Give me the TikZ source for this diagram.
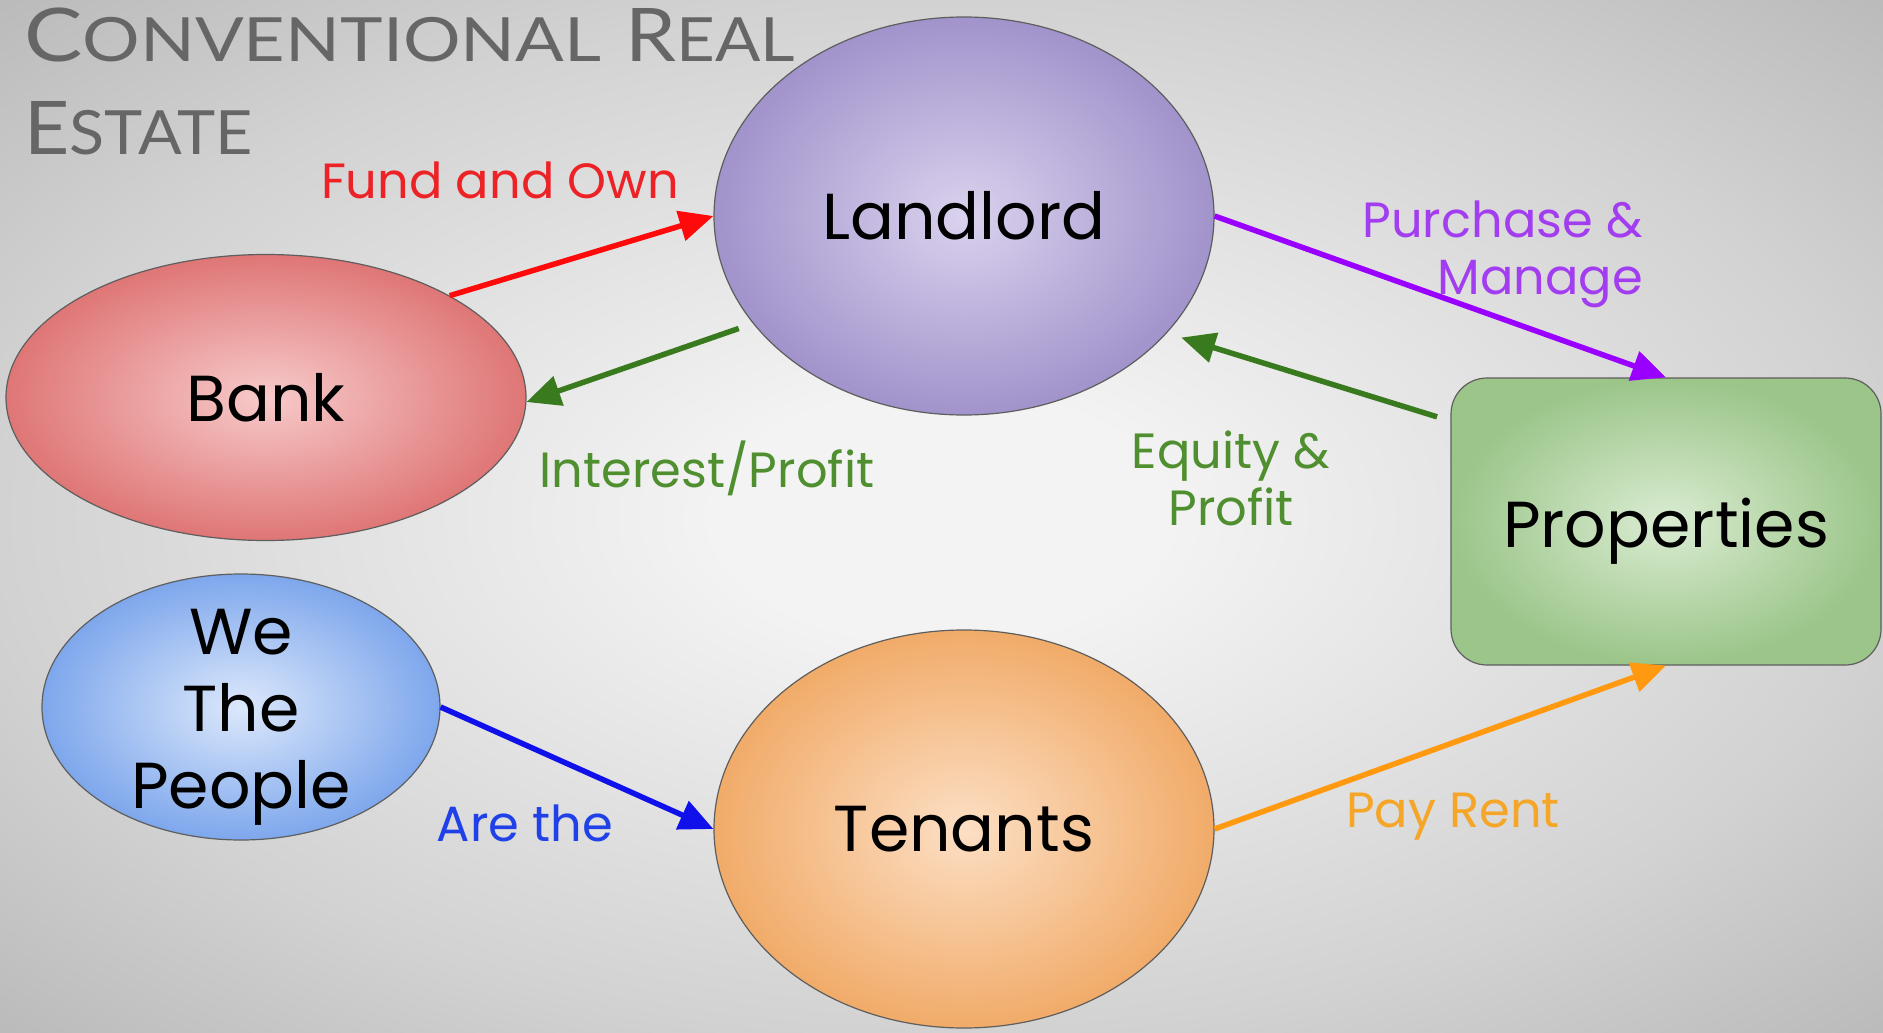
\documentclass[tikz,border=0pt]{standalone}
\usepackage{fontspec}
\setmainfont{Poppins}
\newfontfamily\titlefont{Lato}
\usetikzlibrary{shapes.geometric,arrows.meta}

\definecolor{bgin}{HTML}{F3F3F3}
\definecolor{bgmid}{HTML}{D2D2D2}
\definecolor{bgout}{HTML}{B9B9B9}
\definecolor{edgegray}{HTML}{5E5E5E}
\definecolor{titlegray}{HTML}{666666}
\definecolor{lordin}{HTML}{DAD2EE}
\definecolor{lordout}{HTML}{A193CB}
\definecolor{bankin}{HTML}{F7CACA}
\definecolor{bankout}{HTML}{DF7676}
\definecolor{peoplein}{HTML}{DCE8FB}
\definecolor{peopleout}{HTML}{7EA7EC}
\definecolor{tenin}{HTML}{FCDFC4}
\definecolor{tenout}{HTML}{F1AB69}
\definecolor{propin}{HTML}{DAECD2}
\definecolor{propout}{HTML}{9BC589}
\definecolor{fundred}{HTML}{FF0A0A}
\definecolor{fundlbl}{HTML}{EC2226}
\definecolor{profitgreen}{HTML}{3A7A1E}
\definecolor{profitlbl}{HTML}{4F8F2F}
\definecolor{buypurple}{HTML}{9900FF}
\definecolor{buylbl}{HTML}{A23EF0}
\definecolor{areblue}{HTML}{1010EA}
\definecolor{arelbl}{HTML}{2040E8}
\definecolor{rentorange}{HTML}{FF9A10}
\definecolor{rentlbl}{HTML}{F5A628}

\pgfdeclareradialshading{backdrop}{\pgfpoint{0bp}{0bp}}{%
  color(0bp)=(bgin); color(6bp)=(bgin); color(25bp)=(bgmid);
  color(36bp)=(bgout); color(50bp)=(bgout)}

% small-capital title pieces
\newcommand{\ttlcap}[1]{{\fontsize{74}{80}\selectfont #1}}
\newcommand{\ttlsc}[1]{{\fontsize{61}{66}\selectfont #1}}
% lower a box's ink without changing its reported size
\newcommand{\sinkby}[2]{\raisebox{-#1}[\height][\depth]{#2}}

\begin{document}
\begin{tikzpicture}[x=1pt,y=-1pt,
  blob/.style={ellipse, draw=edgegray, line width=1.2pt, inner sep=0pt,
    font=\fontsize{65}{77}\selectfont, text=black, align=center},
  flow/.style={line width=5.5pt, -{Triangle[length=34pt,width=30pt]}},
  lbl/.style={font=\fontsize{49.5}{57}\selectfont, align=center, inner sep=0pt},
  titleline/.style={anchor=base west, inner sep=0pt, text=titlegray}]

% canvas and soft grey backdrop
\useasboundingbox (0,0) rectangle (1883,1033);
\shade[shading=backdrop] (0,0) rectangle (1883,1033);

% title set in small capitals
\node[titleline] (title1) at (24,62)
  {\titlefont\scalebox{1.18}[1]{\ttlcap{C}\ttlsc{ONVENTIONAL}}\hspace{24pt}%
   \scalebox{1.1}[1]{\ttlcap{R}\ttlsc{EAL}}};
\node[titleline] (title2) at (24,154)
  {\titlefont\scalebox{1.06}[1]{\ttlcap{E}\ttlsc{STATE}}};

% the actors
\node[blob, minimum width=500pt, minimum height=398pt,
      inner color=lordin, outer color=lordout] (landlord) at (964,216) {Landlord};
\node[blob, minimum width=520pt, minimum height=286pt,
      inner color=bankin, outer color=bankout] (bank) at (266,397.5) {Bank};
\node[blob, minimum width=398pt, minimum height=266pt,
      inner color=peoplein, outer color=peopleout] (people) at (241,707)
      {\raisebox{-15.5pt}[0pt][0pt]{\setlength{\tabcolsep}{0pt}%
        \begin{tabular}{c}We\\The\\People\end{tabular}}};
\node[blob, minimum width=500pt, minimum height=398pt,
      inner color=tenin, outer color=tenout] (tenants) at (964,829) {Tenants};
\node[rectangle, rounded corners=36pt, draw=edgegray, line width=1.2pt,
      minimum width=430pt, minimum height=287pt,
      inner color=propin, outer color=propout,
      font=\fontsize{65}{77}\selectfont] (properties) at (1666,521.5)
      {\sinkby{10pt}{Properties}};

% money and ownership flows
\draw[flow, draw=fundred, fill=fundred] (bank.29) -- (landlord.west);
\draw[flow, draw=profitgreen, fill=profitgreen, shorten <=15pt]
  (landlord.207.6) -- (bank.-1.7);
\draw[flow, draw=buypurple, fill=buypurple] (landlord.east) -- (properties.north);
\draw[flow, draw=profitgreen, fill=profitgreen, shorten <=14pt, shorten >=15pt]
  (properties.155.6) -- (landlord.-30.5);
\draw[flow, draw=areblue, fill=areblue] (people.east) -- (tenants.west);
\draw[flow, draw=rentorange, fill=rentorange] (tenants.east) -- (properties.south);

% flow labels
\node[lbl, text=fundlbl] (fundlabel) at (500,180) {Fund and Own};
\node[lbl, text=profitlbl] (interestlabel) at (707,468) {Interest/Profit};
\node[lbl, text=buylbl, align=right, anchor=east] (buylabel) at (1643,254)
  {Purchase \&\\Manage};
\node[lbl, text=profitlbl] (equitylabel) at (1231,478) {Equity \&\\Profit};
\node[lbl, text=arelbl] (arelabel) at (525,823) {Are the};
\node[lbl, text=rentlbl] (rentlabel) at (1453,817) {Pay Rent};

\end{tikzpicture}
\end{document}
